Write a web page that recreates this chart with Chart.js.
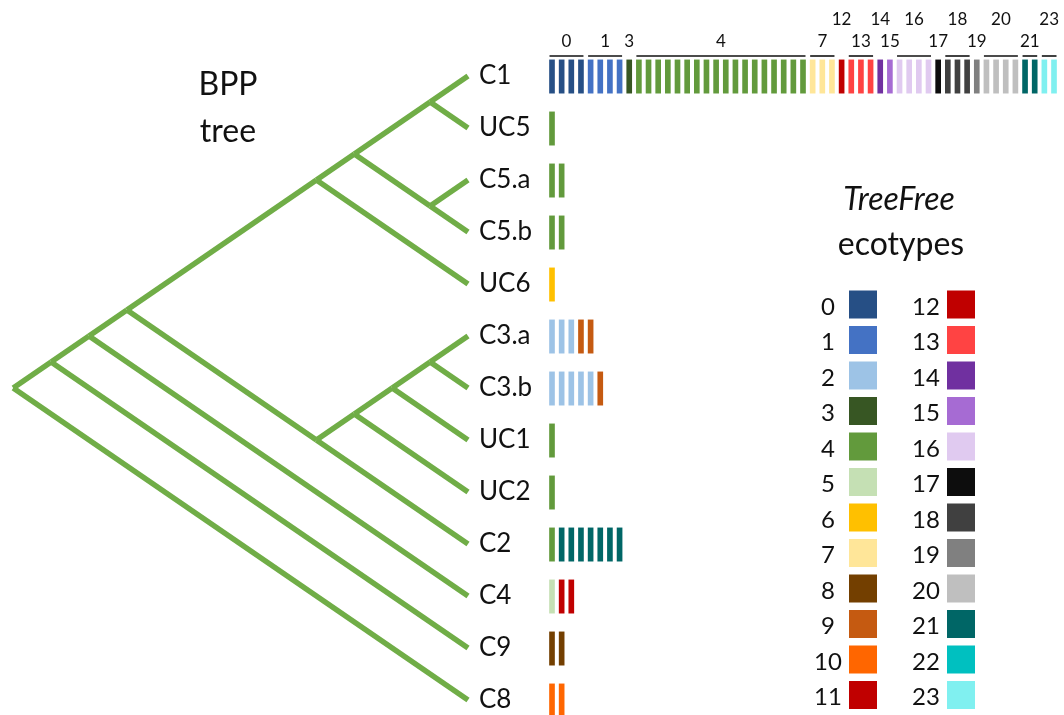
<!DOCTYPE html>
<html>
<head>
<meta charset="utf-8">
<script src="https://cdn.jsdelivr.net/npm/chart.js@4.4.0/dist/chart.umd.min.js"></script>
<style>
  html, body { margin: 0; padding: 0; background: #ffffff; }
  #wrap { position: relative; width: 1064px; height: 715px; }
</style>
</head>
<body>
<div id="wrap"><canvas id="fig"></canvas></div>
<script>
// ---- Species delimited by BPP (top to bottom) ----
const taxa = ["C1", "UC5", "C5.a", "C5.b", "UC6", "C3.a", "C3.b", "UC1", "UC2", "C2", "C4", "C9", "C8"];

// ---- BPP topology ----
const cladeC1 = [["C1", "UC5"], ["C5.a", "C5.b"]];
const cladeUpper = [cladeC1, "UC6"];
const cladeC3 = [[[["C3.a", "C3.b"], "UC1"], "UC2"], "C2"];
const bppTree = [[[[cladeUpper, cladeC3], "C4"], "C9"], "C8"];

// ---- TreeFree ecotypes ----
const ecotypeIds = [0, 1, 2, 3, 4, 5, 6, 7, 8, 9, 10, 11, 12, 13, 14, 15, 16, 17, 18, 19, 20, 21, 22, 23];
const ecotypeColors = [
  "#264f85", "#4472c4", "#9dc3e6", "#375623", "#629a3c", "#c5e0b4",
  "#ffc000", "#ffe699", "#733f00", "#c55a11", "#ff6600", "#c00000",
  "#c00000", "#ff4343", "#7030a0", "#a66bd3", "#e0caf0", "#0d0d0d",
  "#404040", "#808080", "#bfbfbf", "#006666", "#00c0c0", "#80f0f0"
];

// Samples per species: [ecotype, number of samples], in drawing order
const samplesC1  = [[0, 4], [1, 4], [3, 1], [4, 18], [7, 3], [12, 1], [13, 3], [14, 1], [15, 1],
                    [16, 4], [17, 1], [18, 3], [19, 1], [20, 4], [21, 2], [23, 2]];
const samplesUC5 = [[4, 1]];
const samplesC5a = [[4, 2]];
const samplesC5b = [[4, 2]];
const samplesUC6 = [[6, 1]];
const samplesC3a = [[2, 3], [9, 2]];
const samplesC3b = [[2, 5], [9, 1]];
const samplesUC1 = [[4, 1]];
const samplesUC2 = [[4, 1]];
const samplesC2  = [[4, 1], [21, 7]];
const samplesC4  = [[5, 1], [11, 2]];
const samplesC9  = [[8, 2]];
const samplesC8  = [[10, 2]];

const samplesByTaxon = [samplesC1, samplesUC5, samplesC5a, samplesC5b, samplesUC6, samplesC3a,
                        samplesC3b, samplesUC1, samplesUC2, samplesC2, samplesC4, samplesC9, samplesC8];

// Ecotype numbers over the C1 strip that sit on the upper line of labels
const upperTierLabels = [12, 14, 16, 18, 20, 23];

// ---- page geometry (scale domains) ----
const W = 1064, H = 715;
const TIP_PX = 468, TREE_UNIT = 75.8;      // tree depth axis
const ROW0_PX = 76, ROW_STEP = 52;         // species rows
const SLOT0_PX = 552, SLOT_STEP = 9.654;   // one slot per sample

// ---- tree layout: slanted cladogram ----
const treeEdges = [];
function place(node) {
  if (typeof node === "string") {
    const r = taxa.indexOf(node);
    return { x: 0, y: r, lo: r, hi: r };
  }
  const kids = node.map(place);
  const lo = Math.min(...kids.map(k => k.lo));
  const hi = Math.max(...kids.map(k => k.hi));
  const me = { x: -(hi - lo) / 2, y: (lo + hi) / 2, lo, hi };
  kids.forEach(k => treeEdges.push([me, k]));
  return me;
}
place(bppTree);

const treeDatasets = treeEdges.map(([a, b]) => ({
  type: "line",
  xAxisID: "xt",
  yAxisID: "y",
  data: [{ x: a.x, y: a.y }, { x: b.x, y: b.y }],
  borderColor: "#70ad47",
  borderWidth: 5.5,
  borderCapStyle: "butt",
  pointRadius: 0,
  fill: false,
  tension: 0
}));

// ---- sample bars, one dataset per ecotype ----
const perEcotype = ecotypeIds.map(() => []);
const c1Runs = [];
samplesByTaxon.forEach((runs, r) => {
  let slot = 0;
  runs.forEach(([eco, n]) => {
    if (r === 0) c1Runs.push({ eco, start: slot, end: slot + n - 1 });
    for (let k = 0; k < n; k++) {
      perEcotype[eco].push({ x: slot, y: [r - 0.31, r + 0.33] });
      slot++;
    }
  });
});

const barDatasets = ecotypeIds.map(eco => ({
  type: "bar",
  label: String(eco),
  xAxisID: "xb",
  yAxisID: "y",
  data: perEcotype[eco],
  backgroundColor: ecotypeColors[eco],
  borderWidth: 0,
  barThickness: 5,
  grouped: false
}));

// ---- text, strip labels and the ecotype key ----
const annotations = {
  id: "annotations",
  afterDraw(chart) {
    const ctx = chart.ctx;
    const xt = chart.scales.xt, xb = chart.scales.xb, y = chart.scales.y;
    ctx.save();
    ctx.fillStyle = "#111111";

    // tree title
    ctx.textAlign = "center";
    ctx.textBaseline = "alphabetic";
    ctx.font = "32px Lato";
    ctx.fillText("BPP", 228, 95);
    ctx.fillText("tree", 228, 142);

    // species names at the tips
    ctx.textAlign = "left";
    ctx.font = "26px Lato";
    taxa.forEach((t, r) => {
      ctx.fillText(t, xt.getPixelForValue(0) + 11, y.getPixelForValue(r) + 8);
    });

    // ecotype numbers and brackets over the C1 strip
    ctx.textAlign = "center";
    ctx.font = "17px Lato";
    ctx.strokeStyle = "#111111";
    ctx.lineWidth = 1.6;
    c1Runs.forEach(run => {
      const cx = xb.getPixelForValue((run.start + run.end) / 2);
      const ty = upperTierLabels.includes(run.eco) ? 25 : 47;
      ctx.fillText(String(run.eco), cx, ty);
      if (run.end > run.start) {
        ctx.beginPath();
        ctx.moveTo(xb.getPixelForValue(run.start) - 2.5, 56);
        ctx.lineTo(xb.getPixelForValue(run.end) + 2.5, 56);
        ctx.stroke();
      }
    });

    // ecotype key
    ctx.font = "italic 32px Lato";
    ctx.fillText("TreeFree", 899, 210);
    ctx.font = "32px Lato";
    ctx.fillText("ecotypes", 901, 255);

    ctx.font = "24px Lato";
    ecotypeIds.forEach(eco => {
      const col = eco < 12 ? 0 : 1;
      const row = eco % 12;
      const cy = 304.5 + row * 35.5;
      const numX = col === 0 ? 828 : 926;
      const boxX = col === 0 ? 849 : 947;
      ctx.fillStyle = "#111111";
      ctx.fillText(String(eco), numX, cy + 10);
      ctx.fillStyle = ecotypeColors[eco];
      ctx.fillRect(boxX, cy - 14, 28, 28);
    });
    ctx.restore();
  }
};

new Chart(document.getElementById("fig"), {
  type: "bar",
  data: { datasets: [...treeDatasets, ...barDatasets] },
  options: {
    responsive: true,
    maintainAspectRatio: false,
    devicePixelRatio: 1,
    animation: false,
    events: [],
    layout: { padding: 0 },
    plugins: { legend: { display: false }, tooltip: { enabled: false }, title: { display: false } },
    scales: {
      xt: { type: "linear", axis: "x", display: false, offset: false, bounds: "data",
            min: -TIP_PX / TREE_UNIT, max: (W - TIP_PX) / TREE_UNIT },
      xb: { type: "linear", axis: "x", display: false, offset: false, bounds: "data",
            min: -SLOT0_PX / SLOT_STEP, max: (W - SLOT0_PX) / SLOT_STEP },
      y:  { type: "linear", axis: "y", display: false, reverse: true, bounds: "data",
            min: -ROW0_PX / ROW_STEP, max: (H - ROW0_PX) / ROW_STEP }
    }
  },
  plugins: [annotations]
});
</script>
</body>
</html>
